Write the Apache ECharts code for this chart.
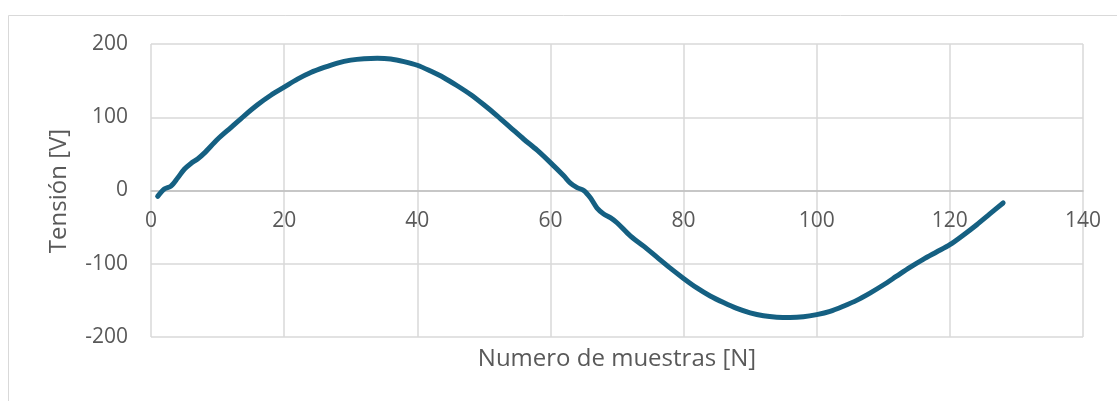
<!DOCTYPE html>
<html>
<head>
<meta charset="utf-8">
<script src="https://cdn.jsdelivr.net/npm/echarts@6/dist/echarts.min.js"></script>
<style>
html,body{margin:0;padding:0;background:#fff;}
#chart{width:1117px;height:401px;}
</style>
</head>
<body>
<div id="chart"></div>
<script>
const sampleN = [1,2,3,4,5,6,7,8,10,12,14,16,18,20,22,24,26,28,30,32,34,36,38,40,42,44,46,48,50,52,54,56,58,60,62,63,64,65,66,67,68,69,70,72,74,76,78,80,82,84,86,88,90,92,94,96,98,100,102,104,106,108,110,112,114,116,118,120,122,124,126,128];
const voltage = [-8,2,6,17,29,37,43,51,70,86,102,117,130,141,152,161,168,174,178,180,180.5,179.5,176,171,163,154,143,131,117,102,86,70,55,38,20,10,4,0,-10,-24,-32,-37,-44,-62,-76,-91,-106,-120,-133,-144,-153,-161,-167,-171,-173,-173.5,-172.5,-169.5,-165,-158,-150,-140,-129,-117,-105,-94,-84,-74,-61,-47,-32,-17];
const xTitle = 'Numero de muestras [N]';
const yTitle = 'Tensión [V]';

const FONT = 'Open Sans';
const TXT = '#595959';
const chart = echarts.init(document.getElementById('chart'), null, {renderer:'canvas'});
chart.setOption({
  animation:false,
  backgroundColor:'#ffffff',
  grid:{left:151, right:34, top:44, bottom:64, containLabel:false},
  xAxis:{
    type:'value', min:0, max:140, interval:20,
    offset:-146.5,
    axisLine:{show:true, onZero:false, lineStyle:{color:'#bfbfbf', width:1.5}},
    axisTick:{show:false},
    splitLine:{show:true, lineStyle:{color:'#d9d9d9', width:1.5}},
    axisLabel:{color:TXT, fontFamily:FONT, fontSize:21, margin:20, showMinLabel:true, showMaxLabel:true}
  },
  yAxis:{
    type:'value', min:-200, max:200, interval:100,
    axisLine:{show:false},
    axisTick:{show:false},
    splitLine:{show:true, lineStyle:{color:'#d9d9d9', width:1.5}},
    axisLabel:{color:TXT, fontFamily:FONT, fontSize:21, margin:23}
  },
  graphic:[
    {type:'rect', silent:true, z:-1, shape:{x:8.5, y:15.5, width:1300, height:600}, style:{fill:'none', stroke:'#d9d9d9', lineWidth:1}},
    {type:'text', x:617, y:359, style:{text:xTitle, fill:TXT, font:'24px "Open Sans"', align:'center', verticalAlign:'middle'}},
    {type:'text', x:59, y:191, rotation:Math.PI/2, style:{text:yTitle, fill:TXT, font:'24px "Open Sans"', align:'center', verticalAlign:'middle'}}
  ],
  series:[{
    type:'line',
    data: sampleN.map((n,i)=>[n, voltage[i]]),
    smooth:0.3,
    showSymbol:false,
    lineStyle:{color:'#156082', width:5, cap:'round', join:'round'}
  }]
});
</script>
</body>
</html>
